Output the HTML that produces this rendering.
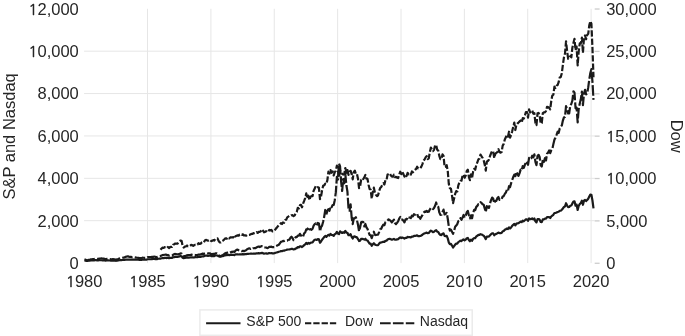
<!DOCTYPE html>
<html><head><meta charset="utf-8"><style>
html,body{margin:0;padding:0;background:#fff;}
svg{display:block;}
text{font-family:"Liberation Sans",Arial,sans-serif;fill:#262626;}
</style></head><body>
<svg width="685" height="336" viewBox="0 0 685 336">
<rect width="685" height="336" fill="#fff"/>
<g stroke="#e6e6e6" stroke-width="1.0" fill="none">
<line x1="84.07" x2="594.7" y1="220.69" y2="220.69"/>
<line x1="84.07" x2="594.7" y1="178.32" y2="178.32"/>
<line x1="84.07" x2="594.7" y1="135.94" y2="135.94"/>
<line x1="84.07" x2="594.7" y1="93.57" y2="93.57"/>
<line x1="84.07" x2="594.7" y1="51.19" y2="51.19"/>
<line x1="147.53" x2="147.53" y1="8.8" y2="263.1"/>
<line x1="210.90" x2="210.90" y1="8.8" y2="263.1"/>
<line x1="274.26" x2="274.26" y1="8.8" y2="263.1"/>
<line x1="337.63" x2="337.63" y1="8.8" y2="263.1"/>
<line x1="401.00" x2="401.00" y1="8.8" y2="263.1"/>
<line x1="464.36" x2="464.36" y1="8.8" y2="263.1"/>
<line x1="527.73" x2="527.73" y1="8.8" y2="263.1"/>
<line x1="591.09" x2="591.09" y1="8.8" y2="263.1"/>
</g>
<g stroke="#cccccc" stroke-width="1.3" fill="none">
<line x1="594.7" x2="599.6" y1="263.27" y2="263.27"/>
<line x1="594.7" x2="599.6" y1="220.89" y2="220.89"/>
<line x1="594.7" x2="599.6" y1="178.52" y2="178.52"/>
<line x1="594.7" x2="599.6" y1="136.14" y2="136.14"/>
<line x1="594.7" x2="599.6" y1="93.77" y2="93.77"/>
<line x1="594.7" x2="599.6" y1="51.39" y2="51.39"/>
<line x1="594.7" x2="599.6" y1="9.02" y2="9.02"/>
</g>
<g fill="none" stroke="#1a1a1a" stroke-width="2.2" stroke-linejoin="round">
<polyline points="84.47,260.65 85.53,260.66 86.58,260.91 87.64,260.82 88.69,260.71 89.75,260.65 90.81,260.49 91.86,260.48 92.92,260.41 93.97,260.37 95.03,260.09 96.09,260.19 97.14,260.33 98.20,260.29 99.26,260.19 100.31,260.26 101.37,260.26 102.42,260.29 103.48,260.30 104.54,260.47 105.59,260.61 106.65,260.49 107.70,260.39 108.76,260.47 109.82,260.52 110.87,260.67 111.93,260.70 112.98,260.60 114.04,260.70 115.10,260.75 116.15,260.80 117.21,260.54 118.26,260.52 119.32,260.24 120.38,260.13 121.43,260.09 122.49,259.99 123.55,259.93 124.60,259.83 125.66,259.59 126.71,259.63 127.77,259.51 128.83,259.63 129.88,259.59 130.94,259.55 131.99,259.60 133.05,259.54 134.11,259.58 135.16,259.61 136.22,259.74 137.27,259.70 138.33,259.68 139.39,259.88 140.44,259.82 141.50,259.88 142.55,259.54 143.61,259.55 144.67,259.55 145.72,259.60 146.78,259.53 147.84,259.26 148.89,259.23 149.95,259.24 151.00,259.26 152.06,259.05 153.12,259.01 154.17,259.02 155.23,259.07 156.28,259.21 157.34,259.05 158.40,258.79 159.45,258.59 160.51,258.58 161.56,258.26 162.62,258.01 163.68,258.08 164.73,257.83 165.79,257.76 166.84,258.07 167.90,257.71 168.96,258.17 170.01,257.90 171.07,257.79 172.12,257.94 173.18,257.26 174.24,257.05 175.29,256.89 176.35,256.96 177.41,256.92 178.46,256.63 179.52,256.32 180.57,256.08 181.63,256.25 182.69,257.74 183.74,258.19 184.80,257.83 185.85,257.62 186.91,257.40 187.97,257.58 189.02,257.53 190.08,257.52 191.13,257.28 192.19,257.31 193.25,257.53 194.30,257.31 195.36,257.16 196.41,257.27 197.47,257.19 198.53,256.77 199.58,256.95 200.64,256.82 201.70,256.51 202.75,256.28 203.81,256.33 204.86,255.74 205.92,255.62 206.98,255.67 208.03,255.86 209.09,255.74 210.14,255.58 211.20,256.10 212.26,256.04 213.31,255.87 214.37,256.06 215.42,255.42 216.48,255.48 217.54,255.52 218.59,256.24 219.65,256.59 220.70,256.63 221.76,256.24 222.82,256.07 223.87,255.78 224.93,255.29 225.99,255.12 227.04,255.12 228.10,254.81 229.15,255.21 230.21,254.85 231.27,254.69 232.32,254.85 233.38,254.75 234.43,255.12 235.49,254.23 236.55,254.41 237.60,254.33 238.66,254.52 239.71,254.28 240.77,254.27 241.83,254.42 242.88,254.08 243.94,254.30 244.99,254.22 246.05,254.20 247.11,253.93 248.16,253.84 249.22,253.77 250.28,253.68 251.33,253.50 252.39,253.74 253.44,253.53 254.50,253.52 255.56,253.58 256.61,253.25 257.67,253.35 258.72,253.16 259.78,253.29 260.84,253.19 261.89,252.87 262.95,253.17 264.00,253.63 265.06,253.52 266.12,253.40 267.17,253.66 268.23,253.36 269.28,253.00 270.34,253.27 271.40,253.06 272.45,253.46 273.51,253.34 274.56,253.10 275.62,252.74 276.68,252.46 277.73,252.16 278.79,251.77 279.85,251.53 280.90,251.16 281.96,251.17 283.01,250.69 284.07,250.75 285.13,250.24 286.18,250.02 287.24,249.59 288.29,249.50 289.35,249.39 290.41,249.21 291.46,248.89 292.52,248.86 293.57,249.51 294.63,249.26 295.69,248.51 296.74,248.13 297.80,247.03 298.85,247.38 299.91,246.41 300.97,246.31 302.02,247.03 303.08,246.09 304.14,245.10 305.19,244.32 306.25,242.85 307.30,244.01 308.36,243.00 309.42,243.69 310.47,242.83 311.53,242.51 312.58,242.30 313.64,240.84 314.70,239.73 315.75,239.51 316.81,239.96 317.86,239.05 318.92,239.33 319.98,242.79 321.03,241.52 322.09,239.79 323.14,238.42 324.20,237.03 325.26,235.96 326.31,236.83 327.37,235.82 328.43,234.78 329.48,235.49 330.54,233.99 331.59,234.92 332.65,235.09 333.71,235.89 334.76,234.19 335.82,233.64 336.87,231.94 337.93,233.52 338.99,234.12 340.04,231.32 341.10,232.30 342.15,232.97 343.21,232.25 344.27,232.75 345.32,230.91 346.38,232.63 347.43,232.78 348.49,235.21 349.55,235.10 350.60,234.13 351.66,236.80 352.72,238.49 353.77,236.60 354.83,236.46 355.88,237.13 356.94,237.41 358.00,239.05 359.05,241.02 360.11,240.62 361.16,238.93 362.22,238.75 363.28,239.12 364.33,239.62 365.39,238.76 366.44,240.25 367.50,240.46 368.56,242.10 369.61,243.76 370.67,243.66 371.72,245.80 372.78,244.30 373.84,243.23 374.89,244.43 375.95,244.94 377.01,245.25 378.06,245.10 379.12,243.64 380.17,242.65 381.23,242.42 382.29,242.09 383.34,241.71 384.40,241.97 385.45,240.81 386.51,240.65 387.57,239.51 388.62,239.10 389.68,238.81 390.73,239.21 391.79,239.61 392.85,239.33 393.90,238.90 394.96,239.73 396.01,239.67 397.07,239.45 398.13,239.12 399.18,238.20 400.24,237.39 401.30,238.04 402.35,237.57 403.41,238.06 404.46,238.56 405.52,237.83 406.58,237.83 407.63,236.92 408.69,237.21 409.74,237.03 410.80,237.50 411.86,236.60 412.91,236.62 413.97,235.95 415.02,235.94 416.08,235.64 417.14,235.30 418.19,236.16 419.25,236.16 420.30,236.02 421.36,235.45 422.42,234.77 423.47,233.87 424.53,233.39 425.58,233.02 426.64,232.60 427.70,233.26 428.75,232.97 429.81,231.66 430.87,230.64 431.92,231.22 432.98,232.24 434.03,231.84 435.09,230.72 436.15,230.24 437.20,231.69 438.26,231.96 439.31,233.86 440.37,234.88 441.43,235.05 442.48,233.71 443.54,233.40 444.59,235.95 445.65,236.22 446.71,235.89 447.76,238.36 448.82,242.54 449.87,244.08 450.93,243.93 451.99,245.57 453.04,247.50 454.10,246.17 455.16,244.58 456.21,243.60 457.27,243.59 458.32,242.15 459.38,241.45 460.44,240.67 461.49,241.12 462.55,239.86 463.60,239.44 464.66,240.32 465.72,239.67 466.77,238.29 467.83,237.93 468.88,239.99 469.94,241.23 471.00,239.73 472.05,240.84 473.11,238.89 474.16,238.00 475.22,238.06 476.28,236.42 477.33,235.82 478.39,234.95 479.45,234.98 480.50,234.18 481.56,234.57 482.61,235.09 483.67,235.69 484.73,237.24 485.78,239.10 486.84,236.52 487.89,236.65 488.95,236.42 490.01,235.26 491.06,234.13 492.12,233.23 493.17,233.45 494.23,235.31 495.29,234.21 496.34,233.85 497.40,233.27 498.45,232.55 499.51,233.15 500.57,233.06 501.62,232.85 502.68,231.33 503.74,230.98 504.79,229.82 505.85,229.22 506.90,228.52 507.96,229.04 509.02,227.35 510.07,228.47 511.13,227.44 512.18,225.85 513.24,224.81 514.30,223.91 515.35,225.30 516.41,223.67 517.46,223.40 518.52,223.15 519.58,222.31 520.63,221.54 521.69,222.16 522.74,220.62 523.80,221.28 524.86,220.31 525.91,219.26 526.97,219.45 528.02,220.80 529.08,218.48 530.14,219.26 531.19,218.88 532.25,218.42 533.31,219.36 534.36,218.49 535.42,221.28 536.47,222.39 537.53,219.01 538.59,218.99 539.64,219.76 540.70,221.96 541.75,222.13 542.81,219.43 543.87,219.31 544.92,218.64 545.98,218.60 547.03,217.02 548.09,217.07 549.15,217.13 550.20,218.02 551.26,216.48 552.31,215.63 553.37,214.79 554.43,212.99 555.48,213.01 556.54,212.55 557.60,211.97 558.65,211.72 559.71,210.73 560.76,210.70 561.82,209.69 562.88,208.51 563.93,206.97 564.99,206.42 566.04,203.24 567.10,205.57 568.16,207.12 569.21,206.96 570.27,205.75 571.32,205.47 572.38,203.40 573.44,201.59 574.49,201.33 575.55,205.62 576.60,204.59 577.66,209.96 578.72,205.78 579.77,204.07 580.83,203.02 581.89,200.66 582.94,204.76 584.00,200.74 585.05,199.92 586.11,201.07 587.17,200.00 588.22,198.71 589.28,196.52 590.33,194.62 591.39,194.73 592.45,200.48 593.50,208.31"/>
<polyline points="160.51,249.76 161.56,248.59 162.62,247.66 163.68,247.95 164.73,247.16 165.79,247.03 166.84,248.02 167.90,246.98 168.96,248.09 170.01,247.16 171.07,246.85 172.12,247.00 173.18,244.78 174.24,244.22 175.29,243.54 176.35,243.69 177.41,243.65 178.46,242.57 179.52,241.27 180.57,240.50 181.63,241.07 182.69,246.17 183.74,247.53 184.80,246.64 185.85,246.47 186.91,245.51 187.97,246.22 189.02,245.85 190.08,245.86 191.13,244.92 192.19,245.03 193.25,245.85 194.30,245.16 195.36,244.86 196.41,245.15 197.47,244.69 198.53,243.22 199.58,243.93 200.64,243.63 201.70,242.57 202.75,242.05 203.81,242.39 204.86,240.52 205.92,239.87 206.98,240.25 208.03,240.65 209.09,240.13 210.14,239.74 211.20,241.12 212.26,240.80 213.31,240.13 214.37,240.55 215.42,238.69 216.48,238.66 217.54,238.45 218.59,240.91 219.65,242.29 220.70,242.37 221.76,241.38 222.82,240.75 223.87,239.88 224.93,238.64 225.99,238.38 227.04,238.60 228.10,237.41 229.15,238.44 230.21,237.43 231.27,237.28 232.32,237.50 233.38,237.06 234.43,238.54 235.49,236.21 236.55,235.75 237.60,235.38 238.66,235.65 239.71,234.60 240.77,234.28 241.83,234.95 242.88,234.31 243.94,235.46 244.99,235.34 246.05,235.73 247.11,235.06 248.16,235.09 249.22,235.02 250.28,234.50 251.33,233.96 252.39,234.02 253.44,233.18 254.50,233.27 255.56,233.07 256.61,232.13 257.67,232.94 258.72,231.88 259.78,231.85 260.84,231.25 261.89,229.35 262.95,230.59 264.00,232.26 265.06,231.87 266.12,231.22 267.17,232.35 268.23,231.17 269.28,229.90 270.34,230.50 271.40,229.95 272.45,231.38 273.51,230.57 274.56,230.49 275.62,229.08 276.68,227.83 277.73,226.45 278.79,225.23 279.85,224.46 280.90,223.17 281.96,224.00 283.01,222.48 284.07,222.77 285.13,220.06 286.18,219.70 287.24,217.34 288.29,216.58 289.35,215.72 290.41,215.87 291.46,215.24 292.52,215.15 293.57,216.21 294.63,215.47 295.69,213.22 296.74,211.97 297.80,207.80 298.85,208.42 299.91,205.33 300.97,204.78 302.02,207.28 303.08,203.67 304.14,200.94 305.19,198.04 306.25,193.38 307.30,198.47 308.36,195.73 309.42,200.00 310.47,196.77 311.53,196.05 312.58,196.06 313.64,190.65 314.70,188.49 315.75,186.26 316.81,187.64 317.86,187.20 318.92,187.78 319.98,199.18 321.03,196.60 322.09,190.25 323.14,185.81 324.20,185.26 325.26,183.75 326.31,184.20 327.37,180.13 328.43,171.63 329.48,173.58 330.54,170.09 331.59,172.77 332.65,171.29 333.71,175.46 334.76,172.13 335.82,170.88 336.87,165.63 337.93,170.35 338.99,177.23 340.04,170.51 341.10,172.10 342.15,173.89 343.21,174.52 344.27,173.90 345.32,168.02 346.38,172.80 347.43,170.09 348.49,174.81 349.55,171.65 350.60,170.80 351.66,174.12 352.72,179.35 353.77,172.09 354.83,170.59 355.88,174.06 356.94,173.89 358.00,178.75 359.05,188.09 360.11,186.16 361.16,179.58 362.22,178.14 363.28,179.00 364.33,177.42 365.39,174.90 366.44,178.78 367.50,178.95 368.56,184.73 369.61,189.03 370.67,189.65 371.72,198.73 372.78,191.91 373.84,187.68 374.89,192.37 375.95,194.81 377.01,196.19 378.06,195.34 379.12,191.20 380.17,188.06 381.23,186.92 382.29,184.81 383.34,183.27 384.40,184.46 385.45,180.01 386.51,180.16 387.57,174.47 388.62,174.18 389.68,173.37 390.73,175.29 391.79,176.41 392.85,176.72 393.90,174.63 394.96,177.14 396.01,176.85 397.07,177.64 398.13,178.09 399.18,174.69 400.24,171.68 401.30,174.17 402.35,171.83 403.41,174.05 404.46,176.69 405.52,174.36 406.58,175.99 407.63,172.89 408.69,174.24 409.74,173.50 410.80,174.59 411.86,171.49 412.91,172.24 413.97,170.99 415.02,169.90 416.08,168.92 417.14,166.73 418.19,168.42 419.25,168.57 420.30,168.27 421.36,166.61 422.42,164.09 423.47,160.69 424.53,159.49 425.58,157.44 426.64,156.10 427.70,159.09 428.75,158.37 429.81,152.36 430.87,147.58 431.92,149.43 432.98,151.10 434.03,149.86 435.09,145.30 436.15,145.01 437.20,149.74 438.26,150.65 439.31,155.86 440.37,159.11 441.43,159.14 442.48,154.42 443.54,155.96 444.59,166.88 445.65,166.64 446.71,165.24 447.76,171.11 448.82,184.04 449.87,188.24 450.93,188.69 451.99,195.26 453.04,203.21 454.10,198.58 455.16,193.85 456.21,191.03 457.27,191.48 458.32,185.34 459.38,182.59 460.44,180.76 461.49,180.75 462.55,175.40 463.60,174.69 464.66,177.75 465.72,175.56 466.77,171.06 467.83,169.77 468.88,177.16 469.94,180.24 471.00,174.37 472.05,178.20 473.11,171.64 474.16,168.84 475.22,169.79 476.28,164.95 477.33,162.29 478.39,159.45 479.45,158.66 480.50,154.50 481.56,156.54 482.61,157.86 483.67,160.16 484.73,164.65 485.78,170.58 486.84,161.75 487.89,160.98 488.95,159.53 490.01,156.01 491.06,153.30 492.12,151.10 493.17,151.08 494.23,158.04 495.29,153.91 496.34,152.82 497.40,152.13 498.45,149.19 499.51,152.08 500.57,152.68 501.62,152.01 502.68,145.60 503.74,143.96 504.79,139.52 505.85,137.30 506.90,134.97 507.96,136.71 509.02,131.71 510.07,137.55 511.13,134.85 512.18,131.32 513.24,126.74 514.30,122.58 515.35,130.02 516.41,124.74 517.46,123.59 518.52,122.55 519.58,121.39 520.63,120.46 521.69,122.70 522.74,118.16 523.80,118.63 524.86,115.69 525.91,111.98 526.97,112.02 528.02,117.60 529.08,109.40 530.14,112.42 531.19,111.87 532.25,110.43 533.31,113.74 534.36,113.15 535.42,122.99 536.47,125.06 537.53,113.37 538.59,112.89 539.64,115.39 540.70,123.52 541.75,123.09 542.81,113.19 543.87,112.44 544.92,112.32 545.98,111.11 547.03,106.86 548.09,107.12 549.15,107.91 550.20,109.31 551.26,101.00 552.31,95.58 553.37,94.72 554.43,86.69 555.48,87.95 556.54,85.60 557.60,85.02 558.65,82.13 559.71,77.54 560.76,77.06 561.82,73.19 562.88,64.95 563.93,57.36 564.99,53.57 566.04,41.45 567.10,50.95 568.16,58.80 569.21,58.29 570.27,56.15 571.32,57.37 572.38,47.68 573.44,43.02 574.49,38.84 575.55,50.21 576.60,46.63 577.66,65.37 578.72,51.20 579.77,43.43 580.83,43.32 581.89,37.70 582.94,52.76 584.00,37.64 585.05,35.40 586.11,39.30 587.17,34.95 588.22,33.85 589.28,25.33 590.33,21.21 591.39,23.60 592.45,47.73 593.50,77.32" stroke-dasharray="6.3 2" stroke-linecap="butt"/>
<polyline points="84.47,259.64 85.53,259.72 86.58,260.29 87.64,260.10 88.69,259.88 89.75,259.73 90.81,259.43 91.86,259.22 92.92,259.09 93.97,258.99 95.03,258.66 96.09,258.78 97.14,258.88 98.20,258.87 99.26,258.62 100.31,258.48 101.37,258.37 102.42,258.50 103.48,258.59 104.54,258.92 105.59,259.26 106.65,258.93 107.70,258.80 108.76,258.92 109.82,259.08 110.87,259.29 111.93,259.35 112.98,259.16 114.04,259.29 115.10,259.44 116.15,259.52 117.21,259.30 118.26,259.09 119.32,258.56 120.38,258.23 121.43,258.15 122.49,257.81 123.55,257.55 124.60,257.33 125.66,256.86 126.71,256.53 127.77,256.32 128.83,256.63 129.88,256.87 130.94,256.78 131.99,257.22 133.05,257.02 134.11,257.17 135.16,257.38 136.22,257.72 137.27,257.76 138.33,257.83 139.39,258.14 140.44,257.99 141.50,258.20 142.55,257.65 143.61,257.77 144.67,257.84 145.72,257.93 146.78,257.83 147.84,257.17 148.89,257.05 149.95,257.15 151.00,257.13 152.06,256.91 153.12,256.79 154.17,256.69 155.23,256.76 156.28,257.13 157.34,256.87 158.40,256.42 159.45,256.19 160.51,255.96 161.56,255.45 162.62,255.13 163.68,254.95 164.73,254.72 165.79,254.48 166.84,255.20 167.90,254.96 168.96,255.64 170.01,255.43 171.07,255.45 172.12,255.68 173.18,254.76 174.24,254.07 175.29,253.96 176.35,254.22 177.41,254.24 178.46,254.07 179.52,253.85 180.57,253.43 181.63,253.66 182.69,256.22 183.74,256.60 184.80,256.07 185.85,255.77 186.91,255.30 187.97,255.13 189.02,255.04 190.08,255.22 191.13,254.71 192.19,254.86 193.25,255.09 194.30,254.86 195.36,254.97 196.41,255.20 197.47,254.99 198.53,254.57 199.58,254.60 200.64,254.45 201.70,254.01 202.75,253.62 203.81,253.85 204.86,253.45 205.92,253.13 206.98,253.05 208.03,253.42 209.09,253.41 210.14,253.43 211.20,254.26 212.26,254.05 213.31,253.84 214.37,254.17 215.42,253.35 216.48,253.28 217.54,253.78 218.59,254.99 219.65,255.77 220.70,256.08 221.76,255.46 222.82,255.15 223.87,254.29 224.93,253.47 225.99,252.85 227.04,252.80 228.10,252.35 229.15,252.99 230.21,252.43 231.27,251.93 232.32,251.91 233.38,251.57 234.43,251.97 235.49,250.65 236.55,249.93 237.60,249.65 238.66,250.28 239.71,250.81 240.77,250.67 241.83,251.13 242.88,250.76 243.94,251.14 244.99,250.71 246.05,250.25 247.11,249.24 248.16,248.73 249.22,248.32 250.28,248.86 251.33,248.45 252.39,249.06 253.44,248.23 254.50,248.16 255.56,248.14 256.61,247.33 257.67,246.91 258.72,246.56 259.78,247.09 260.84,246.61 261.89,246.11 262.95,246.28 264.00,247.32 265.06,247.52 266.12,247.49 267.17,248.11 268.23,247.77 269.28,246.85 270.34,246.88 271.40,246.60 272.45,247.17 273.51,247.14 274.56,247.07 275.62,246.25 276.68,245.76 277.73,245.19 278.79,244.75 279.85,243.29 280.90,241.86 281.96,241.46 283.01,240.96 284.07,241.12 285.13,240.63 286.18,240.78 287.24,240.62 288.29,239.76 289.35,239.73 290.41,237.85 291.46,236.72 292.52,237.96 293.57,240.17 294.63,238.88 295.69,237.07 296.74,237.19 297.80,235.68 298.85,235.72 299.91,233.83 300.97,235.34 302.02,237.19 303.08,236.36 304.14,233.40 305.19,232.52 306.25,229.30 307.30,229.44 308.36,227.35 309.42,229.31 310.47,229.16 311.53,229.80 312.58,228.76 313.64,225.56 314.70,224.18 315.75,223.48 316.81,225.38 317.86,222.93 318.92,223.40 319.98,231.30 321.03,227.18 322.09,225.54 323.14,221.76 324.20,216.61 325.26,209.98 326.31,214.59 327.37,210.92 328.43,209.19 329.48,210.73 330.54,206.16 331.59,207.17 332.65,205.03 333.71,204.89 334.76,200.22 335.82,192.39 336.87,176.85 337.93,179.58 338.99,163.56 340.04,166.18 341.10,181.27 342.15,191.01 343.21,179.04 344.27,183.26 345.32,173.95 346.38,185.25 347.43,191.68 348.49,208.03 349.55,210.73 350.60,204.32 351.66,217.48 352.72,224.08 353.77,218.23 354.83,218.35 355.88,217.29 356.94,220.12 358.00,224.82 359.05,231.31 360.11,227.26 361.16,222.17 362.22,221.75 363.28,222.09 364.33,226.38 365.39,223.97 366.44,227.30 367.50,228.84 368.56,232.07 369.61,234.93 370.67,235.21 371.72,238.24 372.78,234.90 373.84,231.74 374.89,234.77 375.95,235.08 377.01,234.73 378.06,234.65 379.12,232.04 380.17,229.26 381.23,228.69 382.29,226.31 383.34,224.71 384.40,225.21 385.45,222.13 386.51,221.54 387.57,220.62 388.62,219.29 389.68,220.06 390.73,220.82 391.79,222.39 392.85,220.98 393.90,219.68 394.96,223.08 396.01,224.13 397.07,222.88 398.13,221.22 399.18,218.64 400.24,216.98 401.30,219.37 402.35,219.60 403.41,220.71 404.46,222.36 405.52,219.25 406.58,219.49 407.63,216.78 408.69,217.47 409.74,217.48 410.80,218.15 411.86,215.76 412.91,216.34 413.97,214.22 415.02,214.73 416.08,213.50 417.14,213.86 418.19,216.90 419.25,217.05 420.30,218.76 421.36,216.80 422.42,215.22 423.47,212.93 424.53,211.55 425.58,211.90 426.64,210.87 427.70,211.88 428.75,211.76 429.81,209.57 430.87,207.89 431.92,207.91 432.98,209.12 434.03,208.06 435.09,205.83 436.15,202.49 437.20,206.69 438.26,206.87 439.31,212.43 440.37,214.94 441.43,214.78 442.48,211.95 443.54,209.62 444.59,214.49 445.65,213.80 446.71,212.91 447.76,218.75 448.82,226.61 449.87,230.54 450.93,229.66 451.99,231.79 453.04,233.88 454.10,230.68 455.16,226.68 456.21,225.48 457.27,224.19 458.32,221.15 459.38,220.50 460.44,218.10 461.49,219.74 462.55,217.63 463.60,214.99 464.66,217.57 465.72,215.65 466.77,212.26 467.83,210.92 468.88,215.25 469.94,218.38 471.00,215.30 472.05,218.28 473.11,212.88 474.16,209.94 475.22,210.14 476.28,206.86 477.33,205.86 478.39,204.12 479.45,204.15 480.50,202.19 481.56,203.00 482.61,204.31 483.67,204.67 484.73,208.42 485.78,211.89 486.84,206.19 487.89,207.55 488.95,207.87 490.01,203.45 491.06,200.21 492.12,197.57 493.17,198.53 494.23,203.17 495.29,200.88 496.34,200.79 497.40,198.09 498.45,197.04 499.51,199.99 500.57,199.29 501.62,199.09 502.68,196.50 503.74,196.11 504.79,193.84 505.85,192.54 506.90,189.85 507.96,190.96 509.02,186.24 510.07,187.01 511.13,183.16 512.18,180.02 513.24,177.05 514.30,174.58 515.35,176.12 516.41,171.79 517.46,174.10 518.52,175.89 519.58,173.18 520.63,169.67 521.69,170.49 522.74,166.03 523.80,167.87 524.86,164.96 525.91,161.55 526.97,162.72 528.02,164.86 529.08,157.91 530.14,159.23 531.19,158.37 532.25,155.65 533.31,157.41 534.36,154.41 535.42,161.87 536.47,165.18 537.53,155.99 538.59,154.83 539.64,156.98 540.70,165.31 541.75,166.50 542.81,159.89 543.87,161.89 544.92,158.23 545.98,160.47 547.03,153.70 548.09,152.61 549.15,150.52 550.20,153.13 551.26,150.27 552.31,149.02 553.37,144.11 554.43,139.64 555.48,137.82 556.54,134.94 557.60,131.74 558.65,132.97 559.71,128.57 560.76,126.86 561.82,125.44 562.88,120.53 563.93,117.43 564.99,116.80 566.04,106.04 567.10,108.97 568.16,113.41 569.21,113.35 570.27,105.39 571.32,103.95 572.38,100.52 573.44,91.25 574.49,92.59 575.55,108.28 576.60,107.75 577.66,122.49 578.72,108.79 579.77,103.47 580.83,99.31 581.89,91.55 582.94,105.16 584.00,93.44 585.05,89.85 586.11,94.36 587.17,93.58 588.22,87.38 589.28,79.47 590.33,72.96 591.39,69.18 592.45,81.55 593.50,99.92" stroke-dasharray="10.7 2.2" stroke-linecap="butt"/>
</g>
<g font-size="16.5">
<text x="78.8" y="268.87" text-anchor="end">0</text>
<text x="606.2" y="268.87">0</text>
<text x="78.8" y="226.50" text-anchor="end">2,000</text>
<text x="606.2" y="226.50">5,000</text>
<text x="78.8" y="184.12" text-anchor="end">4,000</text>
<text x="606.2" y="184.12"><tspan font-family="NanumGothic, &apos;Liberation Sans&apos;, sans-serif" font-size="14.9" stroke="#262626" stroke-width="0.45">1</tspan>0,000</text>
<text x="78.8" y="141.75" text-anchor="end">6,000</text>
<text x="606.2" y="141.75"><tspan font-family="NanumGothic, &apos;Liberation Sans&apos;, sans-serif" font-size="14.9" stroke="#262626" stroke-width="0.45">1</tspan>5,000</text>
<text x="78.8" y="99.37" text-anchor="end">8,000</text>
<text x="606.2" y="99.37">20,000</text>
<text x="78.8" y="56.99" text-anchor="end"><tspan font-family="NanumGothic, &apos;Liberation Sans&apos;, sans-serif" font-size="14.9" stroke="#262626" stroke-width="0.45">1</tspan>0,000</text>
<text x="606.2" y="56.99">25,000</text>
<text x="78.8" y="14.62" text-anchor="end"><tspan font-family="NanumGothic, &apos;Liberation Sans&apos;, sans-serif" font-size="14.9" stroke="#262626" stroke-width="0.45">1</tspan>2,000</text>
<text x="606.2" y="14.62">30,000</text>
<text x="84.17" y="287" text-anchor="middle"><tspan font-family="NanumGothic, &apos;Liberation Sans&apos;, sans-serif" font-size="14.9" stroke="#262626" stroke-width="0.45">1</tspan>980</text>
<text x="147.53" y="287" text-anchor="middle"><tspan font-family="NanumGothic, &apos;Liberation Sans&apos;, sans-serif" font-size="14.9" stroke="#262626" stroke-width="0.45">1</tspan>985</text>
<text x="210.90" y="287" text-anchor="middle"><tspan font-family="NanumGothic, &apos;Liberation Sans&apos;, sans-serif" font-size="14.9" stroke="#262626" stroke-width="0.45">1</tspan>990</text>
<text x="274.26" y="287" text-anchor="middle"><tspan font-family="NanumGothic, &apos;Liberation Sans&apos;, sans-serif" font-size="14.9" stroke="#262626" stroke-width="0.45">1</tspan>995</text>
<text x="337.63" y="287" text-anchor="middle">2000</text>
<text x="401.00" y="287" text-anchor="middle">2005</text>
<text x="464.36" y="287" text-anchor="middle">20<tspan font-family="NanumGothic, &apos;Liberation Sans&apos;, sans-serif" font-size="14.9" stroke="#262626" stroke-width="0.45">1</tspan>0</text>
<text x="527.73" y="287" text-anchor="middle">20<tspan font-family="NanumGothic, &apos;Liberation Sans&apos;, sans-serif" font-size="14.9" stroke="#262626" stroke-width="0.45">1</tspan>5</text>
<text x="591.09" y="287" text-anchor="middle">2020</text>
<text transform="translate(14.5,136.4) rotate(-90)" text-anchor="middle">S&amp;P and Nasdaq</text>
<text transform="translate(670.5,136.2) rotate(90)" text-anchor="middle">Dow</text>
</g>
<rect x="199.9" y="309.9" width="272.3" height="25.4" fill="#fff" stroke="#ebebeb" stroke-width="1.5"/>
<g stroke="#1a1a1a" stroke-width="2.0" fill="none">
<line x1="206.1" x2="240.5" y1="323.2" y2="323.2"/>
<line x1="305" x2="336.3" y1="323.2" y2="323.2" stroke-dasharray="6.3 2" stroke-linecap="butt"/>
<line x1="380" x2="414.3" y1="323.2" y2="323.2" stroke-dasharray="10.7 2.2" stroke-linecap="butt"/>
</g>
<g font-size="14">
<text x="246.3" y="326.4">S&amp;P 500</text>
<text x="345" y="326.4">Dow</text>
<text x="419.8" y="326.3">Nasdaq</text>
</g>
</svg>
</body></html>
